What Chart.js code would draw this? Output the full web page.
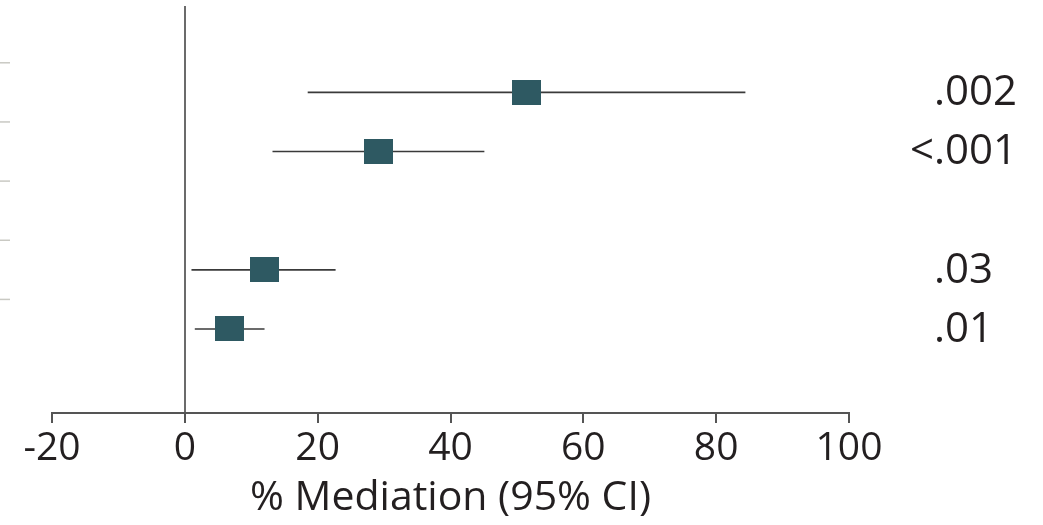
<!DOCTYPE html>
<html>
<head>
<meta charset="utf-8">
<script src="https://cdn.jsdelivr.net/npm/chart.js@4"></script>
<style>
  html, body { margin: 0; padding: 0; background: #fff; }
  #wrap { width: 1043px; height: 525px; }
</style>
</head>
<body>
<div id="wrap"><canvas id="forest"></canvas></div>
<script>
// ? % MEDIATION FOREST PLOT

// ! rows (1 = top), row 3 is an empty spacer row
const rows = [1, 2, 4, 5];
const estimates = [51.5, 29.2, 12.0, 6.7];
const ciLow = [18.5, 13.2, 1.0, 1.5];
const ciHigh = [84.4, 45.1, 22.7, 12.0];
const pValues = ['.002', '<.001', '.03', '.01'];
const xTicks = [-20, 0, 20, 40, 60, 80, 100];
const rowCount = 5;

const FONT = '"Open Sans", "DejaVu Sans", sans-serif';
const TEXT = '#231f20';

// ! square marker (slightly wider than tall)
const marker = document.createElement('canvas');
marker.width = 29;
marker.height = 25;
const mctx = marker.getContext('2d');
mctx.fillStyle = '#2e5962';
mctx.fillRect(0, 0, 29, 25);

// one line dataset per confidence interval
const ciSets = rows.map((r, i) => ({
    type: 'scatter',
    data: [{ x: ciLow[i], y: r }, { x: ciHigh[i], y: r }],
    showLine: true,
    borderColor: '#3a3a3a',
    borderWidth: 1.6,
    pointRadius: 0,
    order: 2,
}));

// ! p values on the right + short ticks on the far left
const sidePlugin = {
    id: 'side',
    afterDatasetsDraw(chart) {
        const { ctx, chartArea, scales } = chart;
        const y = scales.y;
        ctx.save();
        ctx.strokeStyle = '#c9c9c3';
        ctx.lineWidth = 1.5;
        for (let k = 0; k < rowCount; k++) {
            const py = y.getPixelForValue(k + 0.5);
            ctx.beginPath();
            ctx.moveTo(0, py);
            ctx.lineTo(10, py);
            ctx.stroke();
        }
        ctx.font = '42px ' + FONT;
        ctx.fillStyle = TEXT;
        ctx.textBaseline = 'middle';
        ctx.textAlign = 'left';
        const left = chartArea.right + 85;
        pValues.forEach((p, i) => {
            let px = left;
            if (p[0] === '<') px -= ctx.measureText('<').width;
            ctx.fillText(p, px, y.getPixelForValue(rows[i]) + 1);
        });
        ctx.restore();
    }
};

const forest = new Chart(document.getElementById('forest').getContext('2d'), {
    type: 'scatter',
    data: {
        datasets: [
            {
                data: rows.map((r, i) => ({ x: estimates[i], y: r })),
                pointStyle: marker,
                pointRadius: 14,
                pointHoverRadius: 14,
                order: 0,
            },
            ...ciSets,
        ],
    },
    options: {
        responsive: true,
        maintainAspectRatio: false,
        animation: false,
        layout: {
            autoPadding: false,
            padding: { left: 52, right: 194, top: 6, bottom: 0 },
        },
        plugins: {
            legend: { display: false },
            tooltip: { enabled: false },
        },
        scales: {
            x: {
                type: 'linear',
                min: -20,
                max: 100,
                afterBuildTicks(scale) {
                    scale.ticks = xTicks.map(v => ({ value: v }));
                },
                border: { color: '#555', width: 2 },
                grid: {
                    color: c => (c.tick && c.tick.value === 0 ? '#6b6b6b' : 'rgba(0,0,0,0)'),
                    lineWidth: 2,
                    tickColor: '#555',
                    tickWidth: 2,
                    tickLength: 10,
                },
                ticks: {
                    color: TEXT,
                    font: { family: FONT, size: 39 },
                    padding: 2,
                    maxRotation: 0,
                },
                title: {
                    display: true,
                    text: '% Mediation (95% CI)',
                    color: TEXT,
                    font: { family: FONT, size: 41 },
                    padding: { top: 0, bottom: 2 },
                },
            },
            y: {
                type: 'linear',
                display: false,
                reverse: true,
                min: -0.46,
                max: 6.42,
            },
        },
    },
    plugins: [sidePlugin],
});
</script>
</body>
</html>
